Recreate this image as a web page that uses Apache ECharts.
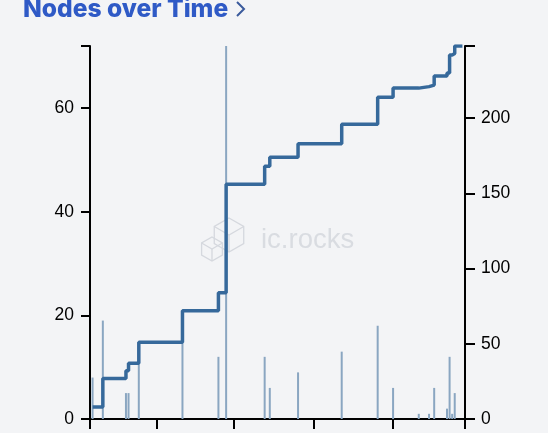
<!DOCTYPE html>
<html>
<head>
<meta charset="utf-8">
<title>Nodes over Time</title>
<script src="https://cdn.jsdelivr.net/npm/echarts@6/dist/echarts.min.js"></script>
<style>
html, body { margin: 0; padding: 0; background: #f3f4f6; overflow: hidden; }
#chart { width: 548px; height: 433px; }
</style>
</head>
<body>
<div id="chart"></div>
<script>
const nodeDates = ['2020-10-07', '2020-10-11', '2020-10-20', '2020-10-21', '2020-10-25', '2020-11-11', '2020-11-25', '2020-11-28', '2020-12-13', '2020-12-15', '2020-12-26', '2021-01-12', '2021-01-26', '2021-02-01', '2021-02-11', '2021-02-15', '2021-02-17', '2021-02-22', '2021-02-23', '2021-02-24', '2021-02-25', '2021-02-28'];
const newNodes = [8, 19, 5, 5, 14, 21, 12, 72, 12, 6, 9, 13, 18, 6, 1, 1, 6, 2, 12, 1, 5, 0];
const totalNodes = [8, 27, 32, 37, 51, 72, 84, 156, 168, 174, 183, 196, 214, 220, 221, 222, 228, 230, 242, 243, 248, 248];

const tickDates = ['2020-10-06', '2020-11-01', '2020-12-01', '2021-01-01', '2021-02-01', '2021-03-01'];
const tickLabels = ['October', 'November', 'December', 'January', 'February', 'March'];
const leftTicks = [0, 20, 40, 60, 72];
const leftLabels = [0, 20, 40, 60];
const rightTicks = [0, 50, 100, 150, 200, 248];
const rightLabels = [0, 50, 100, 150, 200];

// the x axis is a plain value axis holding timestamps, custom ticks break on type 'time'
const toTime = s => new Date(s + 'T00:00:00').getTime();
const tickTimes = tickDates.map(toTime);
const axisFont = 'Liberation Sans';

const chart = echarts.init(document.getElementById('chart'), null, { renderer: 'canvas' });

function cube(cx, cy, r) {
    // outline of a small isometric box, only used for the watermark
    const h = r * 0.5, w = r * 0.866;
    return {
        type: 'group',
        children: [
            { type: 'polygon', shape: { points: [[cx, cy - r], [cx + w, cy - h], [cx + w, cy + h], [cx, cy + r], [cx - w, cy + h], [cx - w, cy - h]] } },
            { type: 'polyline', shape: { points: [[cx - w, cy - h], [cx, cy], [cx + w, cy - h]] } },
            { type: 'line', shape: { x1: cx, y1: cy, x2: cx, y2: cy + r } }
        ].map(el => ({ ...el, silent: true, style: { fill: 'none', stroke: '#d5d8de', lineWidth: 1.3 } }))
    };
}

const option = {
    backgroundColor: '#f3f4f6',
    animation: false,
    title: {
        text: 'Nodes over Time',
        left: 18,
        top: -8,
        textStyle: { color: '#2f5ac6', fontFamily: 'Inter', fontWeight: 800, fontSize: 24.6 }
    },
    graphic: [
        {
            type: 'polyline',
            shape: { points: [[237, 2], [244, 9], [237, 16]] },
            style: { fill: 'none', stroke: '#3a5a9c', lineWidth: 2 }
        },
        {
            type: 'text',
            left: 261,
            top: 226,
            z: 0,
            style: { text: 'ic.rocks', fill: '#d9dce1', font: '27.5px "Liberation Sans"' }
        },
        cube(229, 235, 17),
        cube(212, 249, 12)
    ],
    grid: { left: 90, right: 83, top: 46, bottom: 14, outerBoundsMode: 'none' },
    xAxis: {
        type: 'value',
        min: tickTimes[0],
        max: tickTimes[tickTimes.length - 1],
        splitLine: { show: false },
        axisLine: { lineStyle: { color: '#000', width: 2 } },
        axisTick: { show: true, length: 10, customValues: tickTimes, lineStyle: { color: '#000', width: 2 } },
        axisLabel: {
            customValues: tickTimes,
            margin: 15,
            align: 'left',
            hideOverlap: false,
            color: '#000',
            fontFamily: axisFont,
            fontSize: 17,
            formatter: value => tickLabels[tickTimes.indexOf(value)]
        }
    },
    yAxis: [
        {
            type: 'value',
            min: 0,
            max: 72,
            splitLine: { show: false },
            axisLine: { show: true, lineStyle: { color: '#000', width: 2 } },
            axisTick: { show: true, length: 9, customValues: leftTicks, lineStyle: { color: '#000', width: 2 } },
            axisLabel: { customValues: leftLabels, margin: 16, color: '#000', fontFamily: axisFont, fontSize: 17.5 }
        },
        {
            type: 'value',
            position: 'right',
            min: 0,
            max: 248,
            splitLine: { show: false },
            axisLine: { show: true, lineStyle: { color: '#000', width: 2 } },
            axisTick: { show: true, length: 10, customValues: rightTicks, lineStyle: { color: '#000', width: 2 } },
            axisLabel: { customValues: rightLabels, margin: 16, color: '#000', fontFamily: axisFont, fontSize: 17.5 }
        }
    ],
    series: [
        {
            name: 'New nodes',
            type: 'bar',
            yAxisIndex: 0,
            barWidth: 2,
            itemStyle: { color: '#8aa6c1' },
            data: nodeDates.map((d, i) => [toTime(d), newNodes[i]])
        },
        {
            name: 'Total nodes',
            type: 'line',
            yAxisIndex: 1,
            step: 'end',
            symbol: 'none',
            z: 5,
            lineStyle: { color: '#36699b', width: 3.5 },
            data: nodeDates.map((d, i) => [toTime(d), totalNodes[i]])
        }
    ]
};

chart.setOption(option);
</script>
</body>
</html>
